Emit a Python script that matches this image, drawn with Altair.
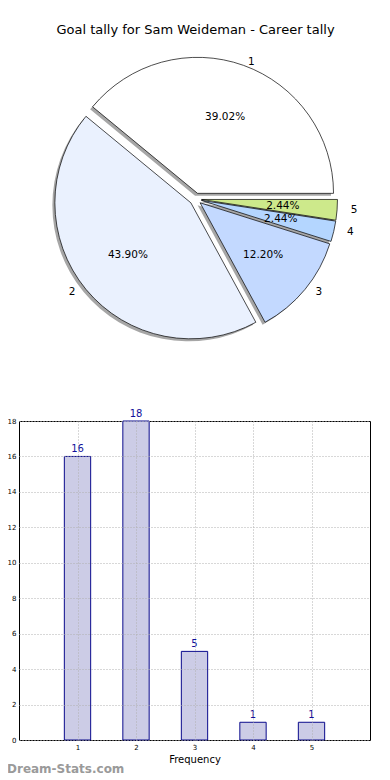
import altair as alt
import pandas as pd

# ---- data ----
slice_labels = ["1", "2", "3", "4", "5"]
counts = [16, 18, 5, 1, 1]
pct_labels = ["39.02%", "43.90%", "12.20%", "2.44%", "2.44%"]
slice_colors = ["#FFFFFF", "#EAF1FE", "#C3D9FF", "#B4D6FF", "#CDE98B"]
categories = [1, 2, 3, 4, 5]
y_ticks = [0, 2, 4, 6, 8, 10, 12, 14, 16, 18]
chart_title = "Goal tally for Sam Weideman - Career tally"
watermark = "Dream-Stats.com"

FONT = "DejaVu Sans"
CX, CY = 176.5, 191.0   # pie centre inside its panel (px)
R = 136                 # pie radius (px)
EXPLODE = 6             # explode offset (px)

pie_df = pd.DataFrame({
    "label": slice_labels,
    "count": counts,
    "pct": pct_labels,
    "color": slice_colors,
    "order": list(range(len(counts))),
})

base = (
    alt.Chart(pie_df)
    .transform_window(cum="sum(count)", sort=[alt.SortField("order")], frame=[None, 0])
    .transform_joinaggregate(total="sum(count)")
    .transform_calculate(
        p0="2*PI*(datum.cum - datum.count)/datum.total",
        p1="2*PI*datum.cum/datum.total",
    )
    .transform_calculate(
        a0="PI/2 - datum.p1",
        a1="PI/2 - datum.p0",
        pm="(datum.p0 + datum.p1)/2",
    )
    .transform_calculate(
        px=f"{CX} + {EXPLODE}*cos(datum.pm)",
        py=f"{CY} - {EXPLODE}*sin(datum.pm)",
    )
    .transform_calculate(
        sx="datum.px - 2.5",
        sy="datum.py + 2.5",
        lx=f"datum.px + {1.1*R}*cos(datum.pm)",
        ly=f"datum.py - {1.03*R}*sin(datum.pm)",
        tx=f"datum.px + {0.6*R}*cos(datum.pm)",
        ty=f"datum.py - {0.6*R}*sin(datum.pm)",
        side="cos(datum.pm) >= 0 ? 'r' : 'l'",
    )
)

shadow = base.mark_arc(radius=R, fill="#9c9c9c", opacity=0.9).encode(
    theta=alt.Theta("a0:Q", scale=None),
    theta2="a1:Q",
    x=alt.X("sx:Q", scale=None),
    y=alt.Y("sy:Q", scale=None),
)

slices = base.mark_arc(radius=R, stroke="black", strokeWidth=0.7).encode(
    theta=alt.Theta("a0:Q", scale=None),
    theta2="a1:Q",
    x=alt.X("px:Q", scale=None),
    y=alt.Y("py:Q", scale=None),
    fill=alt.Fill("color:N", scale=None),
)

pct_text = base.mark_text(font=FONT, fontSize=10.5, color="black", align="center", baseline="middle").encode(
    x=alt.X("tx:Q", scale=None),
    y=alt.Y("ty:Q", scale=None),
    text="pct:N",
)

lab_right = base.transform_filter("datum.side == 'r'").mark_text(
    font=FONT, fontSize=10.5, color="black", align="left", baseline="middle"
).encode(x=alt.X("lx:Q", scale=None), y=alt.Y("ly:Q", scale=None), text="label:N")

lab_left = base.transform_filter("datum.side == 'l'").mark_text(
    font=FONT, fontSize=10.5, color="black", align="right", baseline="middle"
).encode(x=alt.X("lx:Q", scale=None), y=alt.Y("ly:Q", scale=None), text="label:N")

title_text = alt.Chart(pd.DataFrame({"t": [chart_title]})).mark_text(
    font=FONT, fontSize=13, color="black", align="center", baseline="middle"
).encode(x=alt.value(CX), y=alt.value(22), text="t:N")

pie = alt.layer(shadow, slices, pct_text, lab_right, lab_left, title_text).properties(
    width=351, height=381, view=alt.ViewBackground(stroke=None)
)

# ---- bar chart ----
bar_df = pd.DataFrame({"cat": categories, "count": counts})
bbase = alt.Chart(bar_df).transform_calculate(x0="datum.cat - 0.225", x1="datum.cat + 0.225", xm="datum.cat")

xaxis = alt.Axis(
    values=categories, format="d", title="Frequency", titleFontSize=10, titleFontWeight="normal", titleFont=FONT,
    labelFontSize=7, labelFont=FONT, labelColor="black", labelPadding=3, tickSize=0, domain=False,
    labelOverlap=False, grid=True, gridColor="#b0b0b0", gridDash=[1, 2], gridWidth=1, zindex=1,
    titlePadding=4,
)
yaxis = alt.Axis(
    values=y_ticks, format="d", title="Goal tally", titleFontSize=10, titleFontWeight="normal",
    titleFont=FONT, titleX=-16, titleBaseline="alphabetic",
    labelFontSize=7, labelFont=FONT, labelColor="black", labelPadding=3, tickSize=0, domain=False,
    labelOverlap=False, grid=True, gridColor="#b0b0b0", gridDash=[1, 2], gridWidth=1, zindex=1,
)
xscale = alt.Scale(domain=[0, 6], nice=False, zero=False)
yscale = alt.Scale(domain=[0, 18], nice=False)

bars = bbase.mark_bar(fill="#CCCCE6", stroke="#0A0A8C", strokeWidth=1).encode(
    x=alt.X("x0:Q", scale=xscale, axis=xaxis),
    x2="x1:Q",
    y=alt.Y("count:Q", scale=yscale, axis=yaxis),
    y2=alt.Y2(datum=0),
)

bar_labels = bbase.mark_text(font=FONT, fontSize=10, color="#10109A", baseline="bottom", dy=-2).encode(
    x=alt.X("xm:Q", scale=xscale, axis=xaxis),
    y=alt.Y("count:Q", scale=yscale, axis=yaxis),
    text="count:Q",
)

wm = alt.Chart(pd.DataFrame({"t": [watermark]})).mark_text(
    font=FONT, fontSize=12, fontWeight="bold", color="#9a9a9a", align="left", baseline="middle"
).encode(x=alt.value(-12), y=alt.value(348), text="t:N")

bar = alt.layer(bars, bar_labels, wm).properties(
    width=351, height=319, view=alt.ViewBackground(stroke="black", strokeWidth=1)
)

chart = alt.vconcat(pie, bar, spacing=32, bounds="flush").properties(
    padding={"left": -14, "top": 0, "right": 0, "bottom": 0}
).configure(font=FONT)

chart.save("out.html", embed_options={"renderer": "svg", "actions": False})
